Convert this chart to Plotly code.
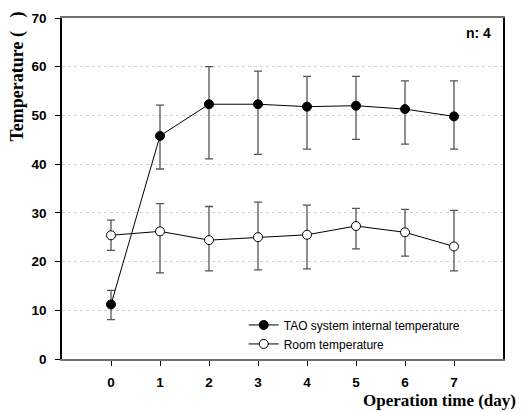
import plotly.graph_objects as go

days = [0, 1, 2, 3, 4, 5, 6, 7]

tao_mean = [11.2, 45.8, 52.3, 52.3, 51.8, 52.0, 51.3, 49.8]
tao_upper = [14.1, 52.1, 60.0, 59.1, 58.0, 58.0, 57.1, 57.1]
tao_lower = [8.1, 39.0, 41.1, 42.0, 43.1, 45.1, 44.1, 43.1]

room_mean = [25.4, 26.2, 24.4, 25.0, 25.5, 27.3, 26.0, 23.1]
room_upper = [28.5, 31.9, 31.3, 32.2, 31.6, 30.9, 30.7, 30.5]
room_lower = [22.3, 17.7, 18.1, 18.3, 18.5, 22.6, 21.1, 18.1]

y_ticks = [0, 10, 20, 30, 40, 50, 60, 70]

series_names = ["TAO system internal temperature", "Room temperature"]


def err(mean, up, lo):
    return dict(
        type="data", symmetric=False,
        array=[u - m for u, m in zip(up, mean)],
        arrayminus=[m - l for m, l in zip(mean, lo)],
        color="#555555", thickness=1.3, width=4,
    )


fig = go.Figure()
fig.add_trace(go.Scatter(
    x=days, y=tao_mean, mode="lines+markers", name=series_names[0],
    line=dict(color="black", width=1),
    marker=dict(symbol="circle", size=9, color="black", line=dict(color="black", width=1)),
    error_y=err(tao_mean, tao_upper, tao_lower),
))
fig.add_trace(go.Scatter(
    x=days, y=room_mean, mode="lines+markers", name=series_names[1],
    line=dict(color="black", width=1),
    marker=dict(symbol="circle", size=9, color="white", line=dict(color="black", width=1)),
    error_y=err(room_mean, room_upper, room_lower),
))

# The page body keeps the browser's 8px margin, so the figure is 8px smaller
fig.update_layout(
    width=520, height=404,
    margin=dict(l=54, r=25, t=10, b=53, autoexpand=False),
    paper_bgcolor="white", plot_bgcolor="white",
    font=dict(family="Liberation Sans, Arial", color="black"),
    showlegend=True,
    legend=dict(
        x=0.412, y=0.072, xanchor="left", yanchor="middle",
        bgcolor="rgba(0,0,0,0)", font=dict(size=12, family="Liberation Sans, Arial"),
        itemwidth=30, tracegroupgap=0,
    ),
)

fig.update_xaxes(
    range=[-1, 8], tickvals=days, ticktext=[str(d) for d in days],
    showgrid=False, zeroline=False,
    showline=True, linecolor="#707070", linewidth=1.5, mirror=True,
    ticks="outside", ticklen=5, tickcolor="black", tickwidth=1,
    tickfont=dict(size=13.5, family="Liberation Sans, Arial", color="black", weight="bold"),
    ticklabelstandoff=5,
)
fig.update_yaxes(
    range=[0, 70], tickvals=y_ticks,
    showgrid=True, gridcolor="#d0d0d0", griddash="dot", gridwidth=1,
    zeroline=False,
    showline=True, linecolor="black", linewidth=1.5, mirror=True,
    ticks="outside", ticklen=5, tickcolor="black", tickwidth=1,
    tickfont=dict(size=13.5, family="Liberation Sans, Arial", color="black", weight="bold"),
    ticklabelstandoff=6,
)

fig.add_annotation(
    text="<b>n: 4</b>", xref="paper", yref="paper", x=0.944, y=0.955,
    showarrow=False, xanchor="center", yanchor="middle",
    font=dict(size=14, family="Liberation Sans, Arial", color="black"),
)
fig.add_annotation(
    text="<b>Temperature (   )</b>", xref="paper", yref="paper",
    x=-0.1, y=0.828, textangle=-90, showarrow=False,
    xanchor="center", yanchor="middle",
    font=dict(size=18, family="Liberation Serif, Times New Roman", color="black"),
)
fig.add_annotation(
    text="<b>Operation time (day)</b>", xref="paper", yref="paper",
    x=1.034, y=-0.121, showarrow=False, xanchor="right", yanchor="middle",
    font=dict(size=17, family="Liberation Serif, Times New Roman", color="black"),
)

fig.write_html("out.html")
